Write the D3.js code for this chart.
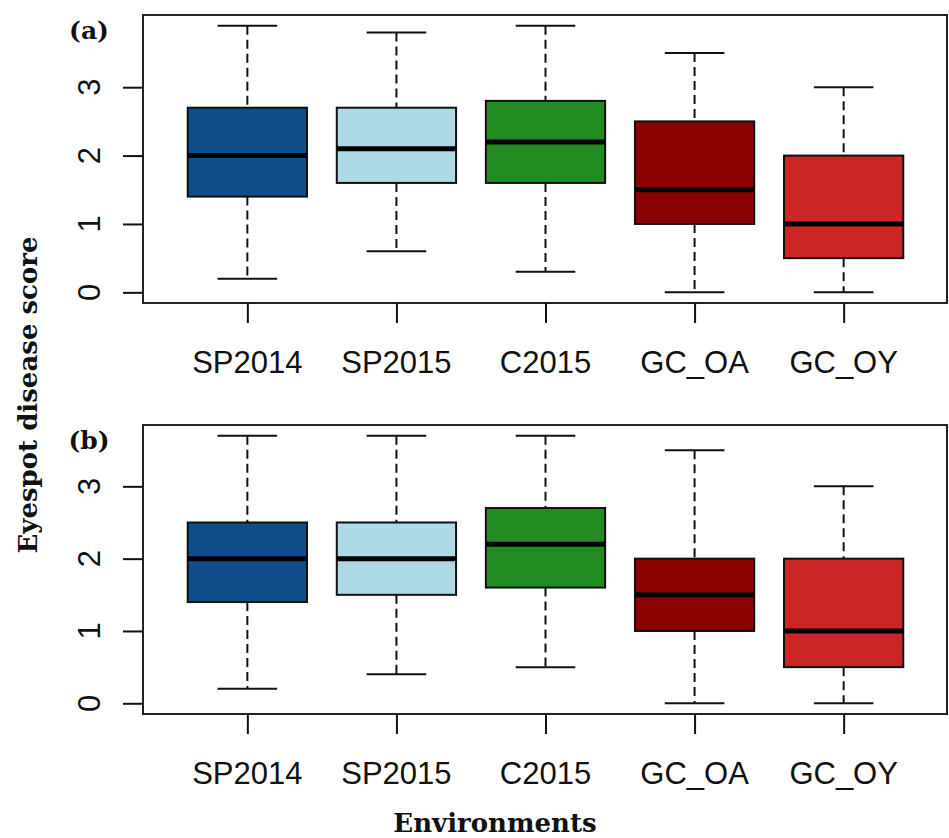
<!DOCTYPE html>
<html>
<head>
<meta charset="utf-8">
<script src="https://cdnjs.cloudflare.com/ajax/libs/d3/7.8.5/d3.min.js"></script>
<style>
  body { margin: 0; background: #fff; }
  .tick-label { font-family: "Liberation Sans", Arial, sans-serif; font-size: 31px; fill: #111; }
  .title { font-family: "DejaVu Serif", "Liberation Serif", serif; font-weight: bold; fill: #111; }
</style>
</head>
<body>
<div id="chart"></div>
<script>
// environnements et couleurs
var categories = ["SP2014", "SP2015", "C2015", "GC_OA", "GC_OY"];
var colors = ["#104E8B", "#ADD8E6", "#228B22", "#8B0000", "#CD2626"];
var yTicks = [0, 1, 2, 3];

// panneau (a)
var a_lower  = [0.2, 0.6, 0.3, 0.0, 0.0];
var a_q1     = [1.4, 1.6, 1.6, 1.0, 0.5];
var a_median = [2.0, 2.1, 2.2, 1.5, 1.0];
var a_q3     = [2.7, 2.7, 2.8, 2.5, 2.0];
var a_upper  = [3.9, 3.8, 3.9, 3.5, 3.0];

// panneau (b)
var b_lower  = [0.2, 0.4, 0.5, 0.0, 0.0];
var b_q1     = [1.4, 1.5, 1.6, 1.0, 0.5];
var b_median = [2.0, 2.0, 2.2, 1.5, 1.0];
var b_q3     = [2.5, 2.5, 2.7, 2.0, 2.0];
var b_upper  = [3.7, 3.7, 3.7, 3.5, 3.0];

var W = 949, H = 838;
var left = 143, right = 948;

var svg = d3.select("#chart")
            .append("svg")
            .attr("width", W)
            .attr("height", H);

var xScale = d3.scaleLinear()
               .domain([0.3, categories.length + 0.7])
               .range([left, right]);

function build_panel(label, top, bottom, lower, q1, median, q3, upper) {
  var lo = d3.min(lower), hi = d3.max(upper);
  var pad = (hi - lo) * 0.04;
  var yScale = d3.scaleLinear()
                 .domain([lo - pad, hi + pad])
                 .range([bottom, top]);

  var data = categories.map(function(c, i) {
    return { name: c, i: i + 1, lower: lower[i], q1: q1[i], median: median[i],
             q3: q3[i], upper: upper[i], color: colors[i] };
  });

  var g = svg.append("g");
  var half = xScale(1.4) - xScale(1);
  var cap = xScale(1.2) - xScale(1);

  // moustaches en tirets
  g.selectAll(".whisk-up").data(data).enter().append("line")
    .attr("x1", function(d) { return xScale(d.i); })
    .attr("x2", function(d) { return xScale(d.i); })
    .attr("y1", function(d) { return yScale(d.upper); })
    .attr("y2", function(d) { return yScale(d.q3); })
    .attr("stroke", "#111").attr("stroke-width", 2).attr("stroke-dasharray", "9,5");
  g.selectAll(".whisk-lo").data(data).enter().append("line")
    .attr("x1", function(d) { return xScale(d.i); })
    .attr("x2", function(d) { return xScale(d.i); })
    .attr("y1", function(d) { return yScale(d.q1); })
    .attr("y2", function(d) { return yScale(d.lower); })
    .attr("stroke", "#111").attr("stroke-width", 2).attr("stroke-dasharray", "9,5");

  // barres des extrémités
  ["upper", "lower"].forEach(function(k) {
    g.selectAll(".cap-" + k).data(data).enter().append("line")
      .attr("x1", function(d) { return xScale(d.i) - cap; })
      .attr("x2", function(d) { return xScale(d.i) + cap; })
      .attr("y1", function(d) { return yScale(d[k]); })
      .attr("y2", function(d) { return yScale(d[k]); })
      .attr("stroke", "#111").attr("stroke-width", 2);
  });

  // boîtes
  g.selectAll(".box").data(data).enter().append("rect")
    .attr("x", function(d) { return xScale(d.i) - half; })
    .attr("width", 2 * half)
    .attr("y", function(d) { return yScale(d.q3); })
    .attr("height", function(d) { return yScale(d.q1) - yScale(d.q3); })
    .attr("fill", function(d) { return d.color; })
    .attr("stroke", "#111").attr("stroke-width", 2);

  // médianes
  g.selectAll(".med").data(data).enter().append("line")
    .attr("x1", function(d) { return xScale(d.i) - half; })
    .attr("x2", function(d) { return xScale(d.i) + half; })
    .attr("y1", function(d) { return yScale(d.median); })
    .attr("y2", function(d) { return yScale(d.median); })
    .attr("stroke", "#000").attr("stroke-width", 5);

  // cadre
  g.append("rect")
    .attr("x", left).attr("y", top)
    .attr("width", right - left - 1).attr("height", bottom - top)
    .attr("fill", "none").attr("stroke", "#222").attr("stroke-width", 2);

  // axe y
  var yAxis = g.append("g")
    .attr("transform", "translate(" + left + ",0)")
    .call(d3.axisLeft(yScale).tickValues(yTicks).tickSize(20).tickFormat(""));
  yAxis.select(".domain").remove();
  yAxis.selectAll("line").attr("stroke", "#111").attr("stroke-width", 2);
  g.selectAll(".ylab").data(yTicks).enter().append("text")
    .attr("class", "tick-label")
    .attr("transform", function(d) { return "translate(100," + yScale(d) + ") rotate(-90)"; })
    .attr("text-anchor", "middle")
    .text(function(d) { return d; });

  // axe x
  var xAxis = g.append("g")
    .attr("transform", "translate(0," + bottom + ")")
    .call(d3.axisBottom(xScale).tickValues(d3.range(1, categories.length + 1)).tickSize(20).tickFormat(""));
  xAxis.select(".domain").remove();
  xAxis.selectAll("line").attr("stroke", "#111").attr("stroke-width", 2);
  g.selectAll(".xlab").data(data).enter().append("text")
    .attr("class", "tick-label")
    .attr("x", function(d) { return xScale(d.i); })
    .attr("y", bottom + 70)
    .attr("text-anchor", "middle")
    .text(function(d) { return d.name; });

  // étiquette du panneau
  g.append("text")
    .attr("class", "title")
    .attr("x", 89).attr("y", top + 24)
    .attr("text-anchor", "middle")
    .style("font-size", "25px")
    .text(label);
}

build_panel("(a)", 15, 303, a_lower, a_q1, a_median, a_q3, a_upper);
build_panel("(b)", 425, 714, b_lower, b_q1, b_median, b_q3, b_upper);

// titres des axes
svg.append("text")
  .attr("class", "title")
  .attr("transform", "translate(37,395) rotate(-90)")
  .attr("text-anchor", "middle")
  .style("font-size", "26px")
  .text("Eyespot disease score");

svg.append("text")
  .attr("class", "title")
  .attr("x", 495).attr("y", 832)
  .attr("text-anchor", "middle")
  .style("font-size", "26px")
  .text("Environments");
</script>
</body>
</html>
